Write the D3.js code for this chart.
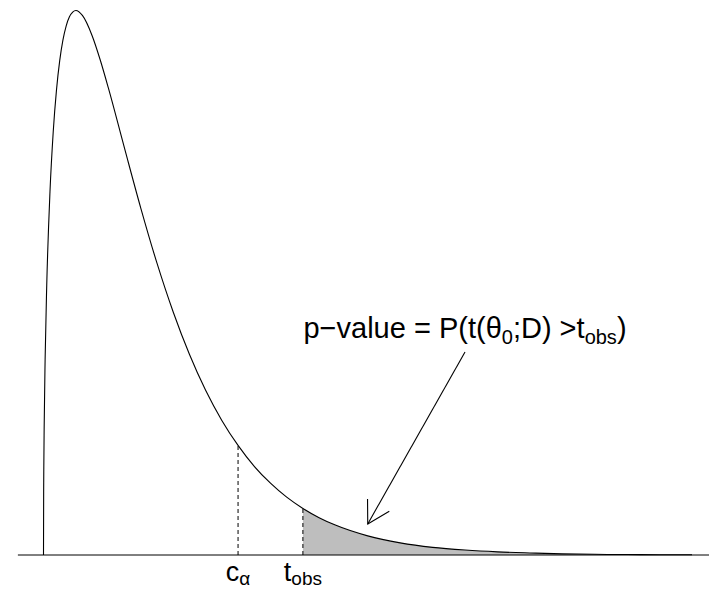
<!DOCTYPE html>
<html lang="en">
<head>
    <meta charset="utf-8" />
    <title>p-value</title>
    <script src="https://d3js.org/d3.v7.min.js"></script>
    <style>
        body { margin: 0; background: #fff; }
        svg { display: block; }
        .lbl { font-family: "Liberation Sans", Arial, sans-serif; fill: #000; }
    </style>
</head>
<body>
<svg width="709" height="592"></svg>

<script>
    // density values
    const xs = [0, 0.005, 0.01, 0.02, 0.05, 0.1, 0.2, 0.3, 0.4, 0.5, 0.6, 0.7, 0.8, 0.9, 1, 1.2, 1.5, 1.75, 2, 2.5, 3, 3.5, 4, 4.5, 5, 5.5, 6, 6.5, 7, 7.5, 8, 8.5, 9, 10, 11, 12, 13, 14, 15, 16, 17, 18, 19, 20];
    const dens = [0, 0.0281, 0.0397, 0.0559, 0.0870, 0.1200, 0.1614, 0.1881, 0.2066, 0.2197, 0.2289, 0.2352, 0.2392, 0.2413, 0.2420, 0.2398, 0.2308, 0.2200, 0.2076, 0.1807, 0.1542, 0.1297, 0.1080, 0.0892, 0.0732, 0.0598, 0.0487, 0.0394, 0.0319, 0.0257, 0.0207, 0.0166, 0.0133, 0.0085, 0.0054, 0.0034, 0.0022, 0.0014, 0.0009, 0.0005, 0.0003, 0.0002, 0.0001, 0.0001];

    const cAlpha = 6;
    const tObs = 8;
    const baseExtent = [-0.79, 20.7];
    const arrowFrom = [13, 0.0902];
    const arrowTo = [10, 0.0138];
    const noteAt = [13, 0.0964];

    const data = xs.map((x, i) => ({ x: x, y: dens[i] }));
    const fAt = v => data.find(d => d.x === v).y;

    const svg = d3.select("svg");

    const x = d3.scaleLinear().domain([0, 20]).range([43.5, 692]);
    const y = d3.scaleLinear().domain([0, 0.242]).range([555, 10.5]);

    // shaded tail
    svg.append("path")
        .datum(data.filter(d => d.x >= tObs))
        .attr("fill", "#bebebe")
        .attr("d", d3.area().x(d => x(d.x)).y0(y(0)).y1(d => y(d.y)).curve(d3.curveMonotoneX));

    // baseline
    svg.append("line")
        .attr("x1", x(baseExtent[0])).attr("x2", x(baseExtent[1]))
        .attr("y1", y(0)).attr("y2", y(0))
        .attr("stroke", "#000").attr("stroke-width", 1);

    // dashed markers
    svg.append("g")
        .selectAll("line")
        .data([cAlpha, tObs])
        .join("line")
        .attr("x1", d => x(d)).attr("x2", d => x(d))
        .attr("y1", y(0)).attr("y2", d => y(fAt(d)))
        .attr("stroke", "#000")
        .attr("stroke-width", 1)
        .attr("stroke-dasharray", "4,3");

    // density curve
    svg.append("path")
        .datum(data)
        .attr("fill", "none")
        .attr("stroke", "#000")
        .attr("stroke-width", 1.1)
        .attr("d", d3.line().x(d => x(d.x)).y(d => y(d.y)).curve(d3.curveMonotoneX));

    // arrow
    const ax0 = x(arrowFrom[0]), ay0 = y(arrowFrom[1]);
    const ax1 = x(arrowTo[0]), ay1 = y(arrowTo[1]);
    const ang = Math.atan2(ay0 - ay1, ax0 - ax1);
    const head = 25, spread = Math.PI / 6;
    const arrow = svg.append("g").attr("stroke", "#000").attr("stroke-width", 1.1).attr("fill", "none");
    arrow.append("line").attr("x1", ax0).attr("y1", ay0).attr("x2", ax1).attr("y2", ay1);
    arrow.append("path")
        .attr("d", `M${ax1 + head * Math.cos(ang + spread)},${ay1 + head * Math.sin(ang + spread)}`
            + `L${ax1},${ay1}`
            + `L${ax1 + head * Math.cos(ang - spread)},${ay1 + head * Math.sin(ang - spread)}`);

    // annotation text
    const note = svg.append("text")
        .attr("class", "lbl")
        .attr("x", x(noteAt[0]))
        .attr("y", y(noteAt[1]))
        .attr("text-anchor", "middle")
        .style("font-size", "29px");
    note.append("tspan").text("p\u2212value = P(t(\u03b8");
    note.append("tspan").attr("dy", 6).style("font-size", "20px").text("0");
    note.append("tspan").attr("dy", -6).text(";D) >t");
    note.append("tspan").attr("dy", 6).style("font-size", "20px").text("obs");
    note.append("tspan").attr("dy", -6).text(")");

    // labels under the markers
    const labels = [
        { at: cAlpha, main: "c", sub: "\u03b1" },
        { at: tObs, main: "t", sub: "obs" }
    ];
    const lab = svg.append("g")
        .selectAll("text")
        .data(labels)
        .join("text")
        .attr("class", "lbl")
        .attr("x", d => x(d.at))
        .attr("y", y(0) + 26)
        .attr("text-anchor", "middle")
        .style("font-size", "27px");
    lab.append("tspan").text(d => d.main);
    lab.append("tspan").attr("dy", 4).style("font-size", "19px").text(d => d.sub);
</script>
</body>
</html>
